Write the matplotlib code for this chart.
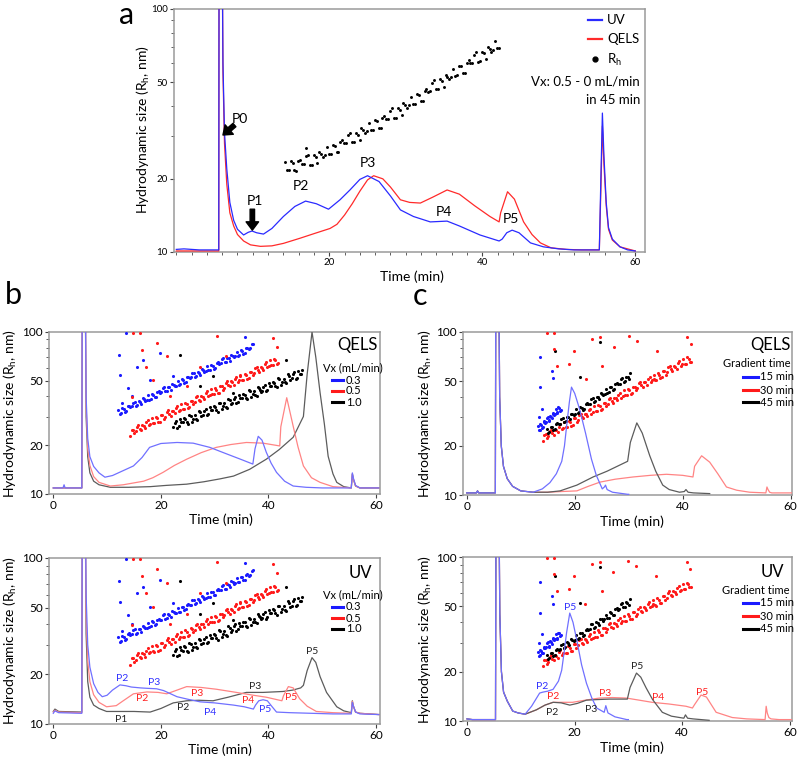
import matplotlib
matplotlib.use('Agg')
import matplotlib.pyplot as plt
from matplotlib.lines import Line2D
from matplotlib.ticker import NullFormatter, FixedLocator

plt.rcParams['font.family'] = ['Lato', 'DejaVu Sans']
plt.rcParams['mathtext.default'] = 'regular'

# ---------------- data: panel a ----------------
A_UV_T = [0, 1, 2, 3, 4, 5, 5.55, 5.6, 5.95, 6.1, 6.3, 6.6, 7.0, 7.5, 8.0, 8.8, 9.4, 9.9, 10.5, 11.4, 12.5, 14, 15.5, 16.9, 18.3, 19.9, 21.4, 22.7, 24.0, 25.0, 26.5, 28, 29.3, 31, 33.2, 35.4, 37, 39.7, 42.2, 42.6, 43.2, 43.9, 44.8, 46.3, 48, 50, 52, 55.3, 55.5, 55.7, 55.9, 56.2, 56.5, 57, 58, 59, 60]
A_UV_V = [10.25, 10.3, 10.25, 10.2, 10.2, 10.2, 10.2, 300, 300, 60, 31, 22, 16, 13.5, 12.4, 11.75, 12.05, 12.2, 12.0, 11.85, 12.5, 14.0, 15.4, 16.2, 15.8, 15.0, 16.4, 18.0, 19.9, 20.6, 19.5, 17.0, 14.9, 14.0, 13.3, 13.4, 12.8, 11.75, 11.1, 11.3, 12.0, 12.3, 12.0, 10.9, 10.5, 10.3, 10.2, 10.2, 20, 37.3, 25, 16, 12.6, 11.3, 10.5, 10.2, 10.1]
A_QELS_T = [0, 2, 4, 5.55, 5.6, 5.95, 6.1, 6.3, 6.6, 7.0, 7.5, 8.0, 8.8, 9.7, 11, 12.5, 14, 16.2, 18, 20.1, 21, 22, 23, 24, 25, 25.8, 27, 28, 29.3, 30.5, 31.9, 33.5, 35.4, 37, 39, 41, 42.2, 42.4, 43.3, 44.2, 45.4, 46.5, 47.6, 49, 51, 53, 55.3, 55.5, 55.7, 55.9, 56.2, 56.5, 57, 58, 60]
A_QELS_V = [10.1, 10.1, 10.1, 10.1, 300, 300, 55, 28, 19, 14.5, 12.8, 11.8, 11.1, 10.7, 10.55, 10.6, 10.85, 11.4, 11.9, 12.5, 13.0, 14.2, 15.8, 17.8, 19.8, 20.6, 20.0, 18.5, 16.4, 16.0, 15.9, 16.8, 18.0, 17.3, 15.5, 14.0, 13.3, 14.5, 17.7, 16.5, 13.3, 11.8, 10.9, 10.4, 10.25, 10.2, 10.2, 18, 33, 23, 15.5, 12.4, 11.2, 10.5, 10.1]
A_RH_T = [14.2, 14.7, 15.2, 15.7, 16.2, 16.7, 17.2, 17.7, 18.2, 18.7, 19.2, 19.7, 20.2, 20.7, 21.2, 21.7, 22.2, 22.7, 23.2, 23.7, 24.2, 24.7, 25.2, 25.7, 26.2, 26.7, 27.2, 27.7, 28.2, 28.7, 29.2, 29.7, 30.2, 30.7, 31.2, 31.7, 32.2, 32.7, 33.2, 33.7, 34.2, 34.7, 35.2, 35.7, 36.2, 36.7, 37.2, 37.7, 38.2, 38.7, 39.2, 39.7, 40.2, 40.7, 41.2, 41.7, 42.2, 17.0,
          14.45, 14.95, 15.45, 15.95, 16.45, 16.95, 17.45, 17.95, 18.45, 18.95, 19.45, 19.95, 20.45, 20.95, 21.45, 21.95, 22.45, 22.95, 23.45, 23.95, 24.45, 24.95, 25.45, 25.95, 26.45, 26.95, 27.45, 27.95, 28.45, 28.95, 29.45, 29.95, 30.45, 30.95, 31.45, 31.95, 32.45, 32.95, 33.45, 33.95, 34.45, 34.95, 35.45, 35.95, 36.45, 36.95, 37.45, 37.95, 38.45, 38.95, 39.45, 39.95, 40.45, 40.95, 41.45, 41.95]
A_RH_V = [23.5, 21.7, 23.3, 21.6, 23.9, 23.0, 25.1, 22.9, 24.5, 25.9, 24.5, 27.0, 25.2, 27.3, 25.8, 28.8, 28.0, 31.0, 28.3, 30.4, 32.3, 30.8, 34.1, 31.8, 34.5, 32.4, 36.4, 35.3, 39.0, 35.6, 38.4, 41.0, 39.2, 43.5, 40.7, 44.3, 41.8, 47.0, 45.9, 50.9, 46.7, 50.4, 53.6, 51.3, 56.9, 53.3, 58.0, 54.7, 61.4, 59.9, 66.4, 60.9, 65.6, 69.8, 66.5, 73.8, 69.1, 26.8,
          21.8, 23.6, 21.8, 23.6, 23.1, 24.8, 22.9, 25.0, 23.2, 25.4, 25.0, 25.2, 27.6, 25.7, 28.3, 28.0, 30.3, 28.3, 31.0, 28.9, 31.8, 31.5, 31.8, 34.8, 32.4, 35.6, 35.3, 38.2, 35.7, 39.1, 36.6, 40.3, 40.1, 40.6, 44.6, 41.8, 46.0, 45.7, 49.8, 46.7, 51.3, 47.9, 52.7, 52.5, 53.2, 58.4, 54.7, 60.1, 59.7, 64.9, 60.8, 66.8, 62.4, 68.5, 68.1, 69.0]
A_LABELS = [('P2', 16.3, 18.7), ('P3', 25.1, 23.2), ('P4', 35.0, 14.6), ('P5', 43.8, 13.7)]

# ---------------- data: panel b (Vx 0.3 / 0.5 / 1.0 mL/min) ----------------
B_QELS_03_T = [0, 1.8, 2.0, 2.2, 5.3, 5.4, 5.9, 6.1, 6.4, 6.8, 7.5, 8.5, 9.6, 11, 12.5, 14.9, 16.5, 17.9, 20, 23, 26, 29.1, 32, 35, 37.1, 37.5, 38.1, 38.8, 39.6, 40.5, 41.5, 43, 44.6, 47, 50, 55.4, 55.6, 55.8, 56.2, 57, 60.5]
B_QELS_03_V = [10.9, 10.9, 11.4, 10.9, 10.9, 300, 300, 40, 22, 17, 14.8, 13.5, 12.7, 13.0, 13.7, 14.9, 16.8, 19.4, 20.5, 20.8, 20.6, 19.4, 17.8, 16.3, 15.3, 19, 22.7, 21.5, 18.1, 15.5, 13.6, 12.0, 11.2, 11.0, 10.9, 10.9, 13.5, 12.5, 11.3, 10.9, 10.9]
B_QELS_05_T = [0, 5.3, 5.4, 5.9, 6.1, 6.4, 6.8, 7.5, 8.5, 10.6, 13, 16.8, 18.5, 20.4, 22.5, 24.8, 27.5, 30.3, 33, 35.9, 39, 42.1, 42.3, 43.4, 44.6, 45.5, 46.5, 48, 49.6, 52, 55.4, 55.6, 55.8, 56.2, 57, 60.5]
B_QELS_05_V = [10.9, 10.9, 300, 300, 35, 19, 15, 12.8, 11.8, 11.2, 11.4, 12.0, 12.6, 13.6, 15.0, 16.4, 18.0, 19.4, 20.2, 20.8, 20.6, 19.8, 26, 39.3, 26.2, 19.5, 14.9, 12.6, 11.8, 11.1, 10.9, 13.3, 12.3, 11.2, 10.9, 10.9]
B_QELS_10_T = [0, 5.3, 5.4, 5.9, 6.1, 6.4, 6.8, 7.5, 8.5, 10.6, 14, 18, 21, 24.8, 28, 31, 33.5, 36.5, 39.6, 42, 44.6, 46.5, 47.2, 48.1, 48.8, 49.6, 50.4, 51.1, 52, 52.7, 54, 55.4, 55.6, 55.8, 56.2, 57, 60.5]
B_QELS_10_V = [10.9, 10.9, 300, 300, 30, 17, 13.5, 12.0, 11.4, 11.0, 11.0, 11.1, 11.3, 11.5, 11.9, 12.4, 12.9, 14.2, 16.4, 18.8, 22.4, 30.1, 55, 100, 70, 42.2, 27, 17.1, 13.3, 11.8, 11.1, 10.9, 13.3, 12.3, 11.2, 10.9, 10.9]

B_UV_03_T = [0, 0.3, 1, 5.3, 5.4, 5.9, 6.1, 6.4, 6.8, 7.5, 8.3, 9.1, 10, 11, 12.4, 13.5, 14.5, 16.2, 17.5, 19.2, 20.5, 23, 25, 27.3, 30, 33.5, 35.5, 37.2, 37.6, 38.2, 39.0, 39.8, 40.6, 41.5, 44, 48, 52, 55.4, 55.6, 55.8, 56.2, 57, 60.5]
B_UV_03_V = [11.6, 12.0, 11.7, 11.6, 300, 300, 60, 30, 22, 17.5, 15.5, 14.6, 14.9, 16.0, 17.2, 17.0, 16.7, 16.5, 16.4, 16.3, 15.9, 14.6, 14.1, 13.6, 13.4, 13.0, 12.7, 12.3, 13.0, 13.8, 14.0, 13.8, 12.8, 11.8, 11.7, 11.6, 11.5, 11.5, 13.5, 12.8, 11.8, 11.5, 11.4]
B_UV_05_T = [0, 0.3, 1, 5.3, 5.4, 5.9, 6.1, 6.4, 6.8, 7.5, 8.5, 9.9, 11.7, 13, 14.9, 17.4, 19.5, 21.1, 23, 24.8, 27.5, 30.3, 33.5, 37.2, 39.6, 42.5, 42.8, 43.7, 44.6, 45.8, 47.2, 48.9, 52, 55.4, 55.6, 55.8, 56.2, 57, 60.5]
B_UV_05_V = [11.8, 12.1, 11.8, 11.7, 300, 300, 45, 24, 18, 15, 13.5, 12.7, 12.9, 13.8, 15.2, 15.6, 15.5, 15.2, 16.0, 16.8, 16.6, 16.2, 15.6, 14.9, 14.5, 13.8, 14.8, 16.8, 16.5, 14.2, 12.8, 11.9, 11.7, 11.6, 13.7, 12.8, 11.8, 11.6, 11.4]
B_UV_10_T = [0, 0.3, 1, 5.3, 5.4, 5.9, 6.1, 6.4, 6.8, 7.5, 8.5, 9.9, 12, 15, 18, 20, 22.3, 24.8, 27, 29.7, 32.5, 35.9, 39, 42.7, 44.5, 46.0, 46.5, 47.2, 48.1, 48.8, 49.6, 50.8, 52.7, 54, 55.4, 55.6, 55.8, 56.2, 57, 60.5]
B_UV_10_V = [11.9, 12.3, 11.9, 11.8, 300, 300, 35, 18, 14.5, 13, 12.4, 11.9, 11.9, 11.9, 11.8, 12.4, 13.4, 13.8, 13.9, 13.8, 14.5, 15.5, 15.5, 15.7, 16.0, 16.5, 17.1, 21, 25.1, 23.5, 19.3, 15.5, 12.7, 12.0, 11.7, 13.8, 12.8, 11.8, 11.6, 11.4]

B_RH_03_T = [12.1, 12.6, 13.1, 13.6, 14.1, 14.6, 15.1, 15.6, 16.1, 16.6, 17.1, 17.6, 18.1, 18.6, 19.1, 19.6, 20.1, 20.6, 21.1, 21.6, 22.1, 22.6, 23.1, 23.6, 24.1, 24.6, 25.1, 25.6, 26.1, 26.6, 27.1, 27.6, 28.1, 28.6, 29.1, 29.6, 30.1, 30.6, 31.1, 31.6, 32.1, 32.6, 33.1, 33.6, 34.1, 34.6, 35.1, 35.6, 36.1, 36.6, 37.1,
             12.35, 12.85, 13.35, 13.85, 14.35, 14.85, 15.35, 15.85, 16.35, 16.85, 17.35, 17.85, 18.35, 18.85, 19.35, 19.85, 20.35, 20.85, 21.35, 21.85, 22.35, 22.85, 23.35, 23.85, 24.35, 24.85, 25.35, 25.85, 26.35, 26.85, 27.35, 27.85, 28.35, 28.85, 29.35, 29.85, 30.35, 30.85, 31.35, 31.85, 32.35, 32.85, 33.35, 33.85, 34.35, 34.85, 35.35, 35.85, 36.35, 36.85]
B_RH_03_V = [33.2, 31.5, 33.4, 32.4, 35.1, 34.7, 37.1, 35.3, 37.1, 38.9, 37.7, 40.8, 38.7, 41.1, 39.8, 43.0, 42.6, 45.7, 43.4, 45.5, 47.8, 46.4, 50.1, 47.6, 50.5, 49.0, 52.9, 52.4, 56.1, 53.3, 56.0, 58.7, 56.9, 61.6, 58.5, 62.1, 60.1, 65.1, 64.4, 69.0, 65.5, 68.8, 72.2, 70.0, 75.7, 72.0, 76.4, 73.9, 80.1, 79.2, 84.8,
             31.2, 33.8, 32.1, 34.8, 34.4, 36.7, 34.9, 37.4, 35.9, 38.5, 38.0, 38.3, 41.5, 39.5, 42.6, 42.2, 45.1, 43.0, 46.0, 44.1, 47.3, 46.7, 47.1, 51.0, 48.5, 52.4, 51.9, 55.5, 52.8, 56.5, 54.2, 58.1, 57.4, 57.9, 62.7, 59.5, 64.5, 63.8, 68.2, 64.9, 69.5, 66.6, 71.4, 70.7, 71.3, 77.1, 73.2, 79.3, 78.4, 83.9]
B_RH_05_T = [14.3, 14.8, 15.3, 15.8, 16.3, 16.8, 17.3, 17.8, 18.3, 18.8, 19.3, 19.8, 20.3, 20.8, 21.3, 21.8, 22.3, 22.8, 23.3, 23.8, 24.3, 24.8, 25.3, 25.8, 26.3, 26.8, 27.3, 27.8, 28.3, 28.8, 29.3, 29.8, 30.3, 30.8, 31.3, 31.8, 32.3, 32.8, 33.3, 33.8, 34.3, 34.8, 35.3, 35.8, 36.3, 36.8, 37.3, 37.8, 38.3, 38.8, 39.3, 39.8, 40.3, 40.8, 41.3, 41.8,
             14.55, 15.05, 15.55, 16.05, 16.55, 17.05, 17.55, 18.05, 18.55, 19.05, 19.55, 20.05, 20.55, 21.05, 21.55, 22.05, 22.55, 23.05, 23.55, 24.05, 24.55, 25.05, 25.55, 26.05, 26.55, 27.05, 27.55, 28.05, 28.55, 29.05, 29.55, 30.05, 30.55, 31.05, 31.55, 32.05, 32.55, 33.05, 33.55, 34.05, 34.55, 35.05, 35.55, 36.05, 36.55, 37.05, 37.55, 38.05, 38.55, 39.05, 39.55, 40.05, 40.55, 41.05, 41.55]
B_RH_05_V = [22.8, 25.0, 24.4, 26.7, 24.9, 26.3, 27.7, 26.6, 29.3, 27.3, 29.3, 28.0, 30.6, 30.0, 32.8, 30.5, 32.4, 34.0, 32.6, 35.9, 33.5, 36.0, 34.5, 37.6, 36.8, 40.3, 37.5, 39.8, 41.8, 40.1, 44.2, 41.2, 44.1, 42.3, 46.3, 45.4, 49.5, 46.1, 48.9, 51.4, 49.3, 54.4, 50.6, 54.2, 52.1, 56.9, 55.8, 60.8, 56.7, 60.2, 63.1, 60.6, 66.9, 62.3, 66.8, 64.0,
             24.9, 23.7, 26.1, 25.3, 26.6, 25.5, 28.5, 27.0, 27.4, 29.8, 27.7, 30.7, 29.1, 32.1, 31.2, 32.7, 31.4, 35.0, 33.2, 33.6, 36.6, 34.1, 37.7, 35.8, 39.5, 38.3, 40.3, 38.6, 43.1, 40.9, 41.2, 45.0, 41.9, 46.2, 44.0, 48.6, 47.1, 49.5, 47.4, 52.8, 50.3, 50.6, 55.3, 51.5, 57.0, 54.0, 59.7, 57.9, 60.8, 58.4, 65.0, 61.8, 62.4, 68.1, 63.4]
B_RH_10_T = [22.3, 22.8, 23.3, 23.8, 24.3, 24.8, 25.3, 25.8, 26.3, 26.8, 27.3, 27.8, 28.3, 28.8, 29.3, 29.8, 30.3, 30.8, 31.3, 31.8, 32.3, 32.8, 33.3, 33.8, 34.3, 34.8, 35.3, 35.8, 36.3, 36.8, 37.3, 37.8, 38.3, 38.8, 39.3, 39.8, 40.3, 40.8, 41.3, 41.8, 42.3, 42.8, 43.3, 43.8, 44.3, 44.8, 45.3, 45.8, 46.3,
             22.55, 23.05, 23.55, 24.05, 24.55, 25.05, 25.55, 26.05, 26.55, 27.05, 27.55, 28.05, 28.55, 29.05, 29.55, 30.05, 30.55, 31.05, 31.55, 32.05, 32.55, 33.05, 33.55, 34.05, 34.55, 35.05, 35.55, 36.05, 36.55, 37.05, 37.55, 38.05, 38.55, 39.05, 39.55, 40.05, 40.55, 41.05, 41.55, 42.05, 42.55, 43.05, 43.55, 44.05, 44.55, 45.05, 45.55, 46.05]
B_RH_10_V = [26.0, 28.2, 26.2, 27.8, 29.3, 27.7, 30.8, 28.0, 30.6, 28.7, 31.9, 30.9, 33.6, 31.2, 33.0, 34.8, 33.0, 36.7, 33.3, 36.4, 34.0, 37.9, 36.7, 39.9, 37.1, 39.2, 41.4, 39.2, 43.6, 39.6, 43.2, 40.5, 45.0, 43.5, 47.4, 44.0, 46.6, 49.2, 46.6, 51.7, 47.1, 51.4, 48.1, 53.6, 51.7, 56.3, 52.3, 55.3, 58.4,
             27.5, 25.7, 28.9, 27.7, 29.0, 27.1, 30.5, 29.1, 29.0, 32.5, 30.3, 32.7, 30.6, 34.3, 32.9, 34.4, 32.2, 36.2, 34.7, 34.5, 38.7, 36.0, 38.8, 36.4, 40.8, 39.1, 40.9, 38.4, 43.1, 41.2, 41.0, 46.0, 42.7, 46.0, 43.2, 48.5, 46.4, 48.7, 45.5, 51.2, 49.0, 48.8, 54.7, 50.8, 54.8, 51.3, 57.6, 55.1]
B_OUT_03_T = [12.3, 13.5, 12.4, 13.9, 14.6, 15.5, 16.7, 18.0, 19.8, 22.3, 35.6, 12.7]
B_OUT_03_V = [72.3, 98, 54.5, 45.1, 40.1, 61.2, 67.3, 50.8, 74.0, 53.2, 93.6, 36.5]
B_OUT_05_T = [14.9, 16.1, 16.4, 17.3, 18.6, 19.2, 21.1, 21.7, 24.8, 27.3, 30.4, 32.2, 34.7, 40.9, 41.5, 14.6]
B_OUT_05_V = [98, 98, 77.6, 61.2, 50.8, 85.3, 70.6, 40.1, 46.2, 61.2, 94.8, 70.6, 53.2, 91.4, 81.3, 39.7]
B_OUT_10_T = [23.5, 27.3, 29.7, 33.4, 38.4, 43.3]
B_OUT_10_V = [72.3, 46.2, 53.2, 42.1, 44.1, 67.3]
B_UV_LABELS = [('P2', 12.8, 18.7, 'b'), ('P3', 18.8, 17.7, 'b'), ('P4', 29.2, 11.7, 'b'), ('P5', 39.4, 12.3, 'b'),
               ('P2', 16.5, 14.2, 'r'), ('P3', 26.8, 15.2, 'r'), ('P4', 36.2, 13.8, 'r'), ('P5', 44.2, 14.4, 'r'),
               ('P1', 12.6, 10.7, 'k'), ('P2', 24.1, 12.5, 'k'), ('P3', 37.5, 16.8, 'k'), ('P5', 48.1, 27.3, 'k')]
B_LEGEND = ['0.3', '0.5', '1.0']

# ---------------- data: panel c (gradient time 15 / 30 / 45 min) ----------------
C_QELS_15_T = [0, 1.8, 2.0, 2.2, 5.3, 5.4, 5.9, 6.1, 6.4, 6.8, 7.5, 8.5, 10, 12.3, 14, 15.4, 16.6, 17.6, 18.1, 18.5, 19.0, 19.4, 20.0, 20.9, 22, 23.1, 24, 25.1, 25.5, 25.7, 26.0, 27, 29.8, 30]
C_QELS_15_V = [10.3, 10.3, 10.6, 10.3, 10.3, 300, 300, 40, 20, 15, 12.6, 11.3, 10.6, 10.4, 10.9, 11.9, 13.5, 16.1, 20, 26.5, 37, 45.9, 42, 33.7, 24, 16.6, 13.2, 10.9, 11.2, 11.5, 10.8, 10.4, 10.1, 10.1]
C_QELS_30_T = [0, 1.8, 2.0, 2.2, 5.3, 5.4, 5.9, 6.1, 6.4, 6.8, 7.5, 8.5, 10, 12.3, 15, 17.3, 20.4, 23.4, 26, 29.8, 30.3, 31.5, 32.5, 33.9, 35, 36.3, 37.5, 39.4, 40.3, 40.6, 41, 42, 45]
C_QELS_30_V = [10.3, 10.3, 10.6, 10.3, 10.3, 300, 300, 40, 20, 15, 12.6, 11.3, 10.6, 10.4, 10.4, 10.6, 11.5, 12.9, 14.0, 16.1, 21, 27.7, 24, 17.4, 14, 11.5, 10.8, 10.4, 10.5, 10.8, 10.4, 10.3, 10.2]
C_QELS_45_T = [0, 1.8, 2.0, 2.2, 5.3, 5.4, 5.9, 6.1, 6.4, 6.8, 7.5, 8.5, 10, 12.3, 15, 17.5, 20.4, 22.5, 24.7, 27.5, 30.8, 34, 37, 40, 41.9, 42.2, 43.5, 45, 46.5, 48.1, 50, 52.4, 55.4, 55.6, 55.8, 56.1, 56.5, 58, 60.5]
C_QELS_45_V = [10.3, 10.3, 10.6, 10.3, 10.3, 300, 300, 40, 20, 15, 12.6, 11.3, 10.6, 10.4, 10.4, 10.5, 10.6, 11.3, 12.0, 12.5, 12.9, 13.2, 13.4, 13.2, 12.9, 15, 17.4, 15.9, 13.5, 11.2, 10.7, 10.4, 10.3, 11.2, 10.8, 10.4, 10.3, 10.3, 10.3]

C_UV_15_T = [0, 1, 5.3, 5.4, 5.9, 6.1, 6.4, 6.8, 7.5, 8.5, 9.5, 10.8, 12, 13.5, 14.1, 15, 16, 17, 17.6, 18.1, 18.5, 19.1, 19.7, 20.4, 21.3, 22.2, 23.2, 24.1, 25.5, 25.8, 26.2, 27.5, 29.7, 30]
C_UV_15_V = [10.3, 10.2, 10.2, 300, 300, 45, 20, 15, 13.2, 11.5, 11.2, 11.0, 12.3, 14.8, 15.0, 15.2, 15.6, 17.5, 20.4, 27, 34.4, 45.5, 40, 31.2, 22, 17.0, 13.8, 12.0, 11.3, 12.4, 11.2, 10.6, 10.2, 10.2]
C_UV_30_T = [0, 1, 5.3, 5.4, 5.9, 6.1, 6.4, 6.8, 7.5, 8.5, 9.5, 10.8, 12.9, 14.5, 16, 17.5, 19.1, 20.5, 22.2, 24, 26.5, 29.8, 30.3, 31.5, 32.3, 33.3, 34.5, 36.3, 38, 40.3, 40.6, 41, 42, 45]
C_UV_30_V = [10.3, 10.2, 10.2, 300, 300, 45, 20, 15, 13.2, 11.5, 11.2, 11.0, 11.7, 12.5, 13.0, 12.9, 12.5, 12.8, 13.4, 13.5, 13.6, 13.6, 16, 19.6, 18.5, 15.9, 13.5, 11.3, 10.7, 10.4, 10.9, 10.4, 10.3, 10.1]
C_UV_45_T = [0, 1, 5.3, 5.4, 5.9, 6.1, 6.4, 6.8, 7.5, 8.5, 9.5, 10.8, 12.9, 14.5, 16, 17.5, 19.6, 22, 24.6, 27, 29.6, 32, 34.4, 37.5, 40.7, 41.9, 42.3, 43.5, 44.5, 46.3, 49.3, 52, 55.4, 55.6, 55.8, 56.1, 56.5, 58, 60.5]
C_UV_45_V = [10.3, 10.2, 10.2, 300, 300, 45, 20, 15, 13.2, 11.5, 11.2, 11.0, 11.7, 12.5, 13.0, 13.0, 13.0, 13.4, 13.8, 13.9, 13.8, 13.4, 13.0, 12.7, 12.3, 12.0, 12.6, 14.4, 14.0, 11.3, 10.5, 10.3, 10.2, 12.3, 11.2, 10.5, 10.3, 10.2, 10.2]

C_RH_15_T = [13.2, 13.5, 13.8, 14.1, 14.4, 14.7, 15.0, 15.3, 15.6, 15.9, 16.2, 16.5, 16.8, 17.1, 17.4,
             13.35, 13.65, 13.95, 14.25, 14.55, 14.85, 15.15, 15.45, 15.75, 16.05, 16.35, 16.65, 16.95, 17.25]
C_RH_15_V = [26.4, 25.2, 26.9, 26.0, 28.3, 28.1, 30.2, 28.8, 30.3, 31.9, 31.1, 33.7, 32.2, 34.2, 33.3,
             24.9, 27.1, 25.8, 27.9, 27.7, 29.8, 28.4, 30.6, 29.5, 31.6, 31.5, 31.8, 34.5, 32.9]
C_RH_30_T = [14.8, 15.3, 15.8, 16.3, 16.8, 17.3, 17.8, 18.3, 18.8, 19.3, 19.8, 20.3, 20.8, 21.3, 21.8, 22.3, 22.8, 23.3, 23.8, 24.3, 24.8, 25.3, 25.8, 26.3, 26.8, 27.3, 27.8, 28.3, 28.8, 29.3, 29.8, 30.3,
             15.05, 15.55, 16.05, 16.55, 17.05, 17.55, 18.05, 18.55, 19.05, 19.55, 20.05, 20.55, 21.05, 21.55, 22.05, 22.55, 23.05, 23.55, 24.05, 24.55, 25.05, 25.55, 26.05, 26.55, 27.05, 27.55, 28.05, 28.55, 29.05, 29.55, 30.05]
C_RH_30_V = [25.4, 24.3, 26.0, 25.3, 27.5, 27.4, 29.6, 28.3, 30.0, 31.6, 30.9, 33.6, 32.2, 34.4, 33.5, 36.6, 36.4, 39.2, 37.5, 39.7, 42.0, 41.0, 44.6, 42.7, 45.7, 44.5, 48.6, 48.3, 52.1, 49.9, 52.7, 55.7,
             24.0, 26.1, 25.0, 27.2, 27.1, 29.2, 28.0, 30.2, 29.2, 31.4, 31.3, 31.7, 34.6, 33.1, 36.1, 36.0, 38.8, 37.1, 40.0, 38.6, 41.7, 41.6, 42.2, 45.9, 44.0, 47.9, 47.7, 51.5, 49.3, 53.1, 51.3]
C_RH_45_T = [14.1, 14.6, 15.1, 15.6, 16.1, 16.6, 17.1, 17.6, 18.1, 18.6, 19.1, 19.6, 20.1, 20.6, 21.1, 21.6, 22.1, 22.6, 23.1, 23.6, 24.1, 24.6, 25.1, 25.6, 26.1, 26.6, 27.1, 27.6, 28.1, 28.6, 29.1, 29.6, 30.1, 30.6, 31.1, 31.6, 32.1, 32.6, 33.1, 33.6, 34.1, 34.6, 35.1, 35.6, 36.1, 36.6, 37.1, 37.6, 38.1, 38.6, 39.1, 39.6, 40.1, 40.6, 41.1, 41.6,
             14.35, 14.85, 15.35, 15.85, 16.35, 16.85, 17.35, 17.85, 18.35, 18.85, 19.35, 19.85, 20.35, 20.85, 21.35, 21.85, 22.35, 22.85, 23.35, 23.85, 24.35, 24.85, 25.35, 25.85, 26.35, 26.85, 27.35, 27.85, 28.35, 28.85, 29.35, 29.85, 30.35, 30.85, 31.35, 31.85, 32.35, 32.85, 33.35, 33.85, 34.35, 34.85, 35.35, 35.85, 36.35, 36.85, 37.35, 37.85, 38.35, 38.85, 39.35, 39.85, 40.35, 40.85, 41.35]
C_RH_45_V = [21.5, 23.6, 23.0, 25.2, 23.5, 25.0, 26.3, 25.3, 27.9, 26.1, 28.0, 26.9, 29.5, 28.9, 31.6, 29.5, 31.3, 33.0, 31.6, 35.0, 32.6, 35.0, 33.6, 36.8, 36.2, 39.5, 36.9, 39.2, 41.2, 39.6, 43.8, 40.8, 43.8, 42.1, 46.1, 45.2, 49.5, 46.1, 49.0, 51.5, 49.6, 54.7, 50.5, 54.8, 52.6, 57.6, 56.5, 61.8, 57.7, 61.3, 64.5, 62.0, 68.5, 63.8, 68.6, 65.8,
             23.5, 22.4, 24.6, 24.0, 25.2, 24.3, 27.1, 25.9, 26.1, 28.6, 26.6, 29.5, 28.0, 31.0, 30.1, 31.6, 30.4, 33.9, 32.2, 32.6, 35.7, 33.3, 36.9, 35.0, 38.8, 37.6, 39.6, 38.0, 42.4, 40.5, 40.8, 44.7, 41.6, 46.0, 43.9, 48.5, 47.1, 49.5, 47.5, 53.1, 50.6, 51.1, 56.0, 52.2, 57.7, 54.8, 60.6, 58.9, 61.9, 59.4, 66.4, 63.2, 63.9, 69.9, 65.2]
C_OUT_15_T = [13.3, 13.6, 13.5, 15.8, 15.9, 13.9]
C_OUT_15_V = [30.0, 70.0, 45.8, 57.9, 52.0, 33.7]
C_OUT_30_T = [16.4, 24.7, 21.0]
C_OUT_30_V = [76.8, 86.5, 52.7]
C_OUT_45_T = [14.8, 16.2, 16.2, 16.7, 18.9, 19.8, 22.0, 23.2, 24.7, 25.0, 27.2, 30.0, 31.5, 34.6, 35.2, 40.8, 41.5]
C_OUT_45_V = [99, 98, 78.7, 62.1, 63.7, 76.1, 51.5, 90.6, 92.7, 62.1, 80.5, 94.9, 88.5, 51.5, 76.1, 92.7, 84.4]
C_UV_LABELS = [('P2', 13.9, 16.3, 'b'), ('P5', 19.1, 48.9, 'b'),
               ('P2', 16.0, 14.2, 'r'), ('P3', 25.6, 14.8, 'r'), ('P4', 35.5, 14.0, 'r'), ('P5', 43.7, 15.0, 'r'),
               ('P2', 15.8, 11.2, 'k'), ('P3', 23.0, 11.8, 'k'), ('P5', 31.6, 21.6, 'k')]
C_LEGEND = ['15 min', '30 min', '45 min']

Y_TICKS = [10, 20, 50, 100]
Y_MINOR = [30, 40, 60, 70, 80, 90]

# ---------------- styling ----------------
W, H = 800, 760
LINE_C = {'b': '#7070ff', 'r': '#ff8484', 'k': '#5c5c5c'}
DOT_C = {'b': '#1a1aff', 'r': '#ff1a1a', 'k': '#000000'}
TXT_C = {'b': '#3030ff', 'r': '#ff2020', 'k': '#222222'}

fig = plt.figure(figsize=(W / 100, H / 100), dpi=100)


def fx(px):
    return px / W


def fy(py):
    return 1 - py / H


def box(l, t, r, b):
    return [l / W, 1 - b / H, (r - l) / W, (b - t) / H]


def style(ax, xlim, xticks, xlabels, size):
    ax.set_yscale('log')
    ax.set_ylim(10, 100)
    ax.set_xlim(*xlim)
    ax.yaxis.set_major_locator(FixedLocator(Y_TICKS))
    ax.set_yticklabels([str(v) for v in Y_TICKS])
    ax.yaxis.set_minor_locator(FixedLocator(Y_MINOR))
    ax.yaxis.set_minor_formatter(NullFormatter())
    ax.set_xticks(xticks)
    ax.set_xticklabels(xlabels)
    for s in ax.spines.values():
        s.set_color('#9a9a9a')
        s.set_linewidth(1.1)
    ax.tick_params(which='major', length=3, width=0.8, labelsize=size, color='#444', pad=1.5)
    ax.tick_params(which='minor', length=2, width=0.6, color='#444')


def fig_label(text, px, py, size, rot=0, ha='center', color='black', **kw):
    fig.text(fx(px), fy(py), text, fontsize=size, rotation=rot, ha=ha, va='center', color=color, **kw)


YLABEL = 'Hydrodynamic size (R$_\\mathregular{h}$, nm)'

# ---------------- panel a ----------------
axa = fig.add_axes(box(174, 9, 645, 252))
style(axa, (-0.3, 61.27), [20, 40, 60], ['20', '40', '60'], 7)
axa.set_xticks([t for t in range(0, 61, 2) if t not in (20, 40, 60)], minor=True)
axa.plot(A_QELS_T, A_QELS_V, color='#ff2a2a', lw=0.9, zorder=3)
axa.plot(A_UV_T, A_UV_V, color='#2a2aff', lw=0.9, zorder=3)
axa.scatter(A_RH_T, A_RH_V, s=4.5, color='black', linewidths=0, zorder=4)
for txt, t, v in A_LABELS:
    axa.text(t, v, txt, fontsize=10, ha='center', va='center')
axa.text(8.33, 35.4, 'P0', fontsize=10, ha='center', va='center')
axa.text(10.3, 16.2, 'P1', fontsize=10, ha='center', va='center')
arrow = dict(facecolor='black', edgecolor='black', width=3.2, headwidth=9, headlength=6, shrink=0)
axa.annotate('', xy=(6.1, 30.3), xytext=(7.6, 33.3), arrowprops=arrow)
axa.annotate('', xy=(9.94, 12.3), xytext=(9.94, 15.0), arrowprops=arrow)

fig_label('a', 127, 15, 22)
fig_label(YLABEL, 143, 130, 10, rot=90)
fig_label('Time (min)', 412, 277, 10)
fig.add_artist(Line2D([fx(588), fx(602)], [fy(20), fy(20)], color='#2a2aff', lw=1.6))
fig.add_artist(Line2D([fx(588), fx(602)], [fy(39), fy(39)], color='#ff2a2a', lw=1.6))
fig.add_artist(Line2D([fx(595)], [fy(59)], color='black', marker='o', ms=3.5, lw=0))
fig_label('UV', 607, 20, 9.5, ha='left')
fig_label('QELS', 607, 39, 9.5, ha='left')
fig_label('R$_\\mathregular{h}$', 607, 60, 9.5, ha='left')
fig_label('Vx: 0.5 - 0 mL/min', 640, 82, 9.5, ha='right')
fig_label('in 45 min', 640, 100, 9.5, ha='right')

# ---------------- panel b ----------------
B_RH = [(B_RH_03_T, B_RH_03_V, 'b'), (B_RH_05_T, B_RH_05_V, 'r'), (B_RH_10_T, B_RH_10_V, 'k'),
        (B_OUT_03_T, B_OUT_03_V, 'b'), (B_OUT_05_T, B_OUT_05_V, 'r'), (B_OUT_10_T, B_OUT_10_V, 'k')]
C_RH = [(C_RH_45_T, C_RH_45_V, 'r'), (C_RH_30_T, C_RH_30_V, 'k'), (C_RH_15_T, C_RH_15_V, 'b'),
        (C_OUT_15_T, C_OUT_15_V, 'b'), (C_OUT_30_T, C_OUT_30_V, 'k'), (C_OUT_45_T, C_OUT_45_V, 'r')]


def rh(ax, sets):
    for t, v, c in sets:
        ax.scatter(t, v, s=5, color=DOT_C[c], linewidths=0, zorder=4)


def legend(title_main, tmain, title_sub, sub_x, ys, names, line_x0, line_x1, text_x, sub_ha='center'):
    fig_label(title_main[0], tmain[0], tmain[1], 12)
    fig_label(title_sub, sub_x, ys[0], 8, ha=sub_ha)
    for (name, yy, c) in zip(names, ys[1:], ['b', 'r', 'k']):
        col = {'b': '#1a1aff', 'r': '#ff1a1a', 'k': '#000000'}[c]
        fig.add_artist(Line2D([fx(line_x0), fx(line_x1)], [fy(yy), fy(yy)], color=col, lw=2.2))
        fig_label(name, text_x, yy, 8, ha='left')


axb1 = fig.add_axes(box(49, 332, 380, 494))
style(axb1, (-0.8, 60.74), [0, 20, 40, 60], ['0', '20', '40', '60'], 8.5)
for t, v, c in [(B_QELS_10_T, B_QELS_10_V, 'k'), (B_QELS_05_T, B_QELS_05_V, 'r'), (B_QELS_03_T, B_QELS_03_V, 'b')]:
    axb1.plot(t, v, color=LINE_C[c], lw=0.9, zorder=3)
rh(axb1, B_RH)

axb2 = fig.add_axes(box(49, 558, 380, 724))
style(axb2, (-0.8, 60.74), [0, 20, 40, 60], ['0', '20', '40', '60'], 8.5)
for t, v, c in [(B_UV_10_T, B_UV_10_V, 'k'), (B_UV_05_T, B_UV_05_V, 'r'), (B_UV_03_T, B_UV_03_V, 'b')]:
    axb2.plot(t, v, color=LINE_C[c], lw=0.9, zorder=3)
rh(axb2, B_RH)
for txt, t, v, c in B_UV_LABELS:
    axb2.text(t, v, txt, fontsize=7.5, ha='center', va='center', color=TXT_C[c], zorder=5)

fig_label('b', 13, 295, 22)
fig_label(YLABEL, 10, 414, 10, rot=90)
fig_label(YLABEL, 10, 641, 10, rot=90)
fig_label('Time (min)', 221, 520, 10)
fig_label('Time (min)', 220, 750, 10)
legend(('QELS',), (357, 345), 'Vx (mL/min)', 353, [368, 380, 391, 402], B_LEGEND, 332, 343, 346)
legend(('UV',), (360, 573), 'Vx (mL/min)', 353, [595, 607, 618, 629], B_LEGEND, 332, 343, 346)

# ---------------- panel c ----------------
axc1 = fig.add_axes(box(463, 332, 792, 495))
style(axc1, (-0.69, 60.24), [0, 20, 40, 60], ['0', '20', '40', '60'], 8.5)
rh(axc1, C_RH)
for t, v, c in [(C_QELS_45_T, C_QELS_45_V, 'r'), (C_QELS_30_T, C_QELS_30_V, 'k'), (C_QELS_15_T, C_QELS_15_V, 'b')]:
    axc1.plot(t, v, color=LINE_C[c], lw=0.9, zorder=5)

axc2 = fig.add_axes(box(463, 557, 792, 721))
style(axc2, (-0.74, 60.4), [0, 20, 40, 60], ['0', '20', '40', '60'], 8.5)
rh(axc2, C_RH)
for t, v, c in [(C_UV_45_T, C_UV_45_V, 'r'), (C_UV_30_T, C_UV_30_V, 'k'), (C_UV_15_T, C_UV_15_V, 'b')]:
    axc2.plot(t, v, color=LINE_C[c], lw=0.9, zorder=5)
for txt, t, v, c in C_UV_LABELS:
    axc2.text(t, v, txt, fontsize=7.5, ha='center', va='center', color=TXT_C[c], zorder=6)

fig_label('c', 420, 296, 22)
fig_label(YLABEL, 425, 414, 10, rot=90)
fig_label(YLABEL, 425, 640, 10, rot=90)
fig_label('Time (min)', 632, 522, 10)
fig_label('Time (min)', 632, 748, 10)
legend(('QELS',), (770, 345), 'Gradient time', 723, [364, 377, 390, 402], C_LEGEND, 743, 758, 760, sub_ha='left')
legend(('UV',), (772, 572), 'Gradient time', 722, [591, 603, 616, 629], C_LEGEND, 743, 758, 760, sub_ha='left')

fig.savefig('out.png', dpi=100)
